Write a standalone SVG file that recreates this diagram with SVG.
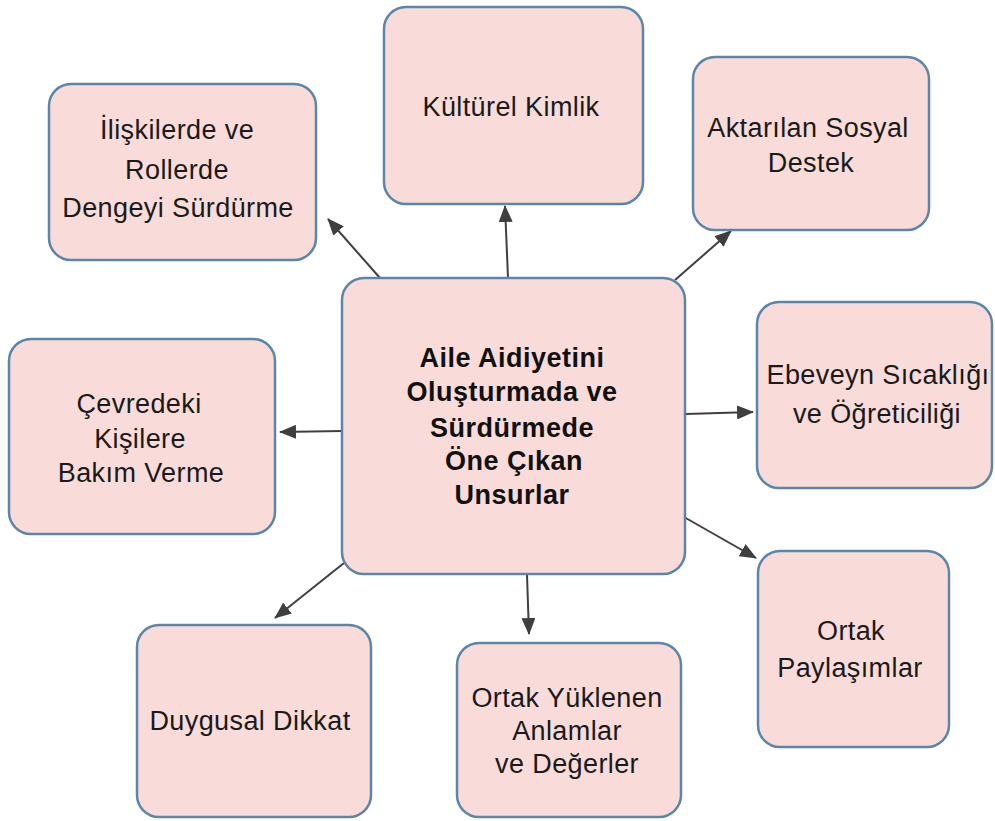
<svg xmlns="http://www.w3.org/2000/svg" width="995" height="821" viewBox="0 0 995 821">
<defs>
<marker id="ah" markerUnits="userSpaceOnUse" markerWidth="17" markerHeight="14" refX="16" refY="7" orient="auto">
<path d="M0,0 L17,7 L0,14 z" fill="#3f3f3f"/>
</marker>
</defs>
<style>
.box{fill:#f9dcd9;stroke:#5b86a8;stroke-width:2.5}
.t{font-family:"Liberation Sans",Arial,sans-serif;font-size:27px;letter-spacing:0.4px;fill:#1a1a1a;text-anchor:middle}
.b{font-family:"Liberation Sans",Arial,sans-serif;font-size:27px;letter-spacing:0.5px;font-weight:bold;fill:#111;text-anchor:middle}
.c{stroke:#3f3f3f;stroke-width:2;fill:none;marker-end:url(#ah)}
</style>
<rect width="995" height="821" fill="#ffffff"/>
<g id="connectors">
<line class="c" x1="508" y1="278" x2="505" y2="206"/>
<line class="c" x1="675" y1="280" x2="731" y2="231"/>
<line class="c" x1="380" y1="278" x2="328" y2="219"/>
<line class="c" x1="342" y1="431" x2="280" y2="432"/>
<line class="c" x1="686" y1="414" x2="753" y2="412"/>
<line class="c" x1="684" y1="517" x2="756" y2="558"/>
<line class="c" x1="527" y1="575" x2="529" y2="634"/>
<line class="c" x1="344" y1="563" x2="275" y2="618"/>
</g>
<g id="center">
<rect class="box" x="342" y="278" width="343" height="296" rx="22"/>
<text class="b" x="512" y="367">Aile Aidiyetini</text>
<text class="b" x="512" y="401">Oluşturmada ve</text>
<text class="b" x="512" y="437">Sürdürmede</text>
<text class="b" x="514" y="470">Öne Çıkan</text>
<text class="b" x="512" y="504">Unsurlar</text>
</g>
<g id="iliskilerde">
<rect class="box" x="49" y="84" width="267" height="176" rx="22"/>
<text class="t" x="177" y="139">İlişkilerde ve</text>
<text class="t" x="177" y="179">Rollerde</text>
<text class="t" x="178" y="217">Dengeyi Sürdürme</text>
</g>
<g id="kulturel">
<rect class="box" x="384" y="7" width="259" height="197" rx="22"/>
<text class="t" x="511" y="116">Kültürel Kimlik</text>
</g>
<g id="aktarilan">
<rect class="box" x="693" y="57" width="236" height="173" rx="22"/>
<text class="t" x="808" y="137">Aktarılan Sosyal</text>
<text class="t" x="811" y="172">Destek</text>
</g>
<g id="cevredeki">
<rect class="box" x="9" y="339" width="266" height="195" rx="22"/>
<text class="t" x="139" y="413">Çevredeki</text>
<text class="t" x="140" y="448">Kişilere</text>
<text class="t" x="141" y="482">Bakım Verme</text>
</g>
<g id="ebeveyn">
<rect class="box" x="757" y="302" width="235" height="186" rx="22"/>
<text class="t" x="878" y="384">Ebeveyn Sıcaklığı</text>
<text class="t" x="877" y="423">ve Öğreticiliği</text>
</g>
<g id="paylasimlar">
<rect class="box" x="758" y="551" width="191" height="196" rx="22"/>
<text class="t" x="851" y="640">Ortak</text>
<text class="t" x="850" y="677">Paylaşımlar</text>
</g>
<g id="duygusal">
<rect class="box" x="137" y="625" width="234" height="192" rx="22"/>
<text class="t" x="250" y="730">Duygusal Dikkat</text>
</g>
<g id="ortakyuklenen">
<rect class="box" x="457" y="643" width="224" height="174" rx="22"/>
<text class="t" x="567" y="707">Ortak Yüklenen</text>
<text class="t" x="567" y="740">Anlamlar</text>
<text class="t" x="567" y="773">ve Değerler</text>
</g>
</svg>
